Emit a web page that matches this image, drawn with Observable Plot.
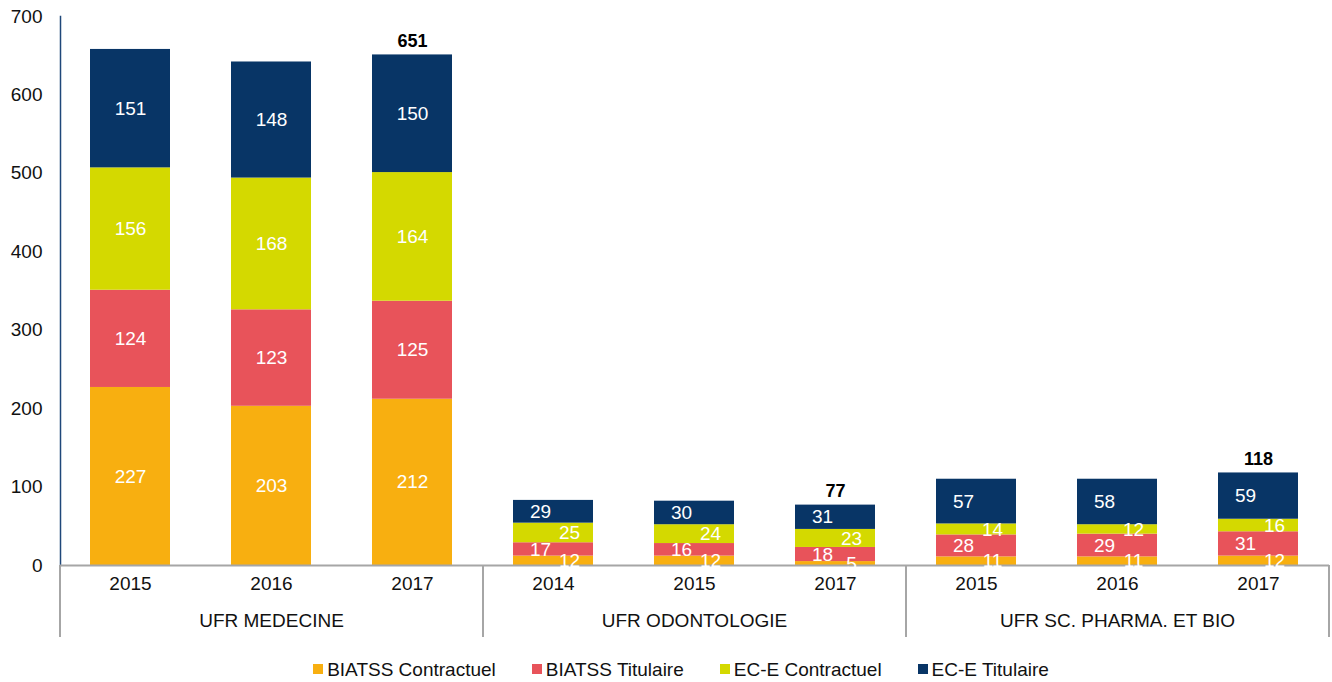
<!DOCTYPE html>
<html>
<head>
<meta charset="utf-8">
<script src="https://cdn.jsdelivr.net/npm/d3@7"></script>
<script src="https://cdn.jsdelivr.net/npm/@observablehq/plot@0.6"></script>
<style>
  html, body { margin: 0; padding: 0; background: #fff; }
  body { font-family: "Liberation Sans", Arial, sans-serif; width: 1332px; }
  #legend { display: flex; justify-content: center; align-items: center; gap: 36px;
            font-size: 19px; color: #111; padding-top: 14px; padding-left: 30px; line-height: 22px; }
  #legend .item { display: flex; align-items: center; }
  #legend .sw { width: 10px; height: 10px; margin-right: 4px; margin-top: -2px; }
</style>
</head>
<body>
<div id="chart"></div>
<div id="legend"></div>
<script>
// ---------- data ----------
const groups = ["UFR MEDECINE", "UFR ODONTOLOGIE", "UFR SC. PHARMA. ET BIO"];
const groupYears = [["2015", "2016", "2017"], ["2014", "2015", "2017"], ["2015", "2016", "2017"]];
const seriesNames = ["BIATSS Contractuel", "BIATSS Titulaire", "EC-E Contractuel", "EC-E Titulaire"];
const biatssContractuel = [227, 203, 212, 12, 12, 5, 11, 11, 12];
const biatssTitulaire   = [124, 123, 125, 17, 16, 18, 28, 29, 31];
const eceContractuel    = [156, 168, 164, 25, 24, 23, 14, 12, 16];
const eceTitulaire      = [151, 148, 150, 29, 30, 31, 57, 58, 59];
const seriesColors = ["#F8AF10", "#E8535A", "#D4D900", "#083566"];
const yTicks = [0, 100, 200, 300, 400, 500, 600, 700];
const totalLabelYear = "2017";

// ---------- build tables ----------
const seriesValues = [biatssContractuel, biatssTitulaire, eceContractuel, eceTitulaire];
const keys = [];
const keyRows = [];
groups.forEach((g, gi) => groupYears[gi].forEach(y => {
  const key = g + "|" + y;
  keys.push(key);
  keyRows.push({key, group: g, year: y});
}));
const rows = [];
keyRows.forEach((k, i) => {
  let base = 0;
  const total = seriesValues.reduce((s, arr) => s + arr[i], 0);
  seriesValues.forEach((arr, si) => {
    const v = arr[i];
    rows.push({key: k.key, series: seriesNames[si], si, value: v, mid: base + v / 2, total});
    base += v;
  });
  k.total = total;
});
const groupRows = groups.map((g, gi) => {
  const ks = keyRows.filter(k => k.group === g);
  return {group: g, first: ks[0].key, mid: ks[Math.floor(ks.length / 2)].key, last: ks[ks.length - 1].key};
});

// ---------- layout ----------
const W = 1332, H = 645, ML = 60, MR = 3, MT = 16, MB = 80;
const step = (W - ML - MR) / keys.length;
const font = '"Liberation Sans", Arial, sans-serif';
const isBig = d => d.total >= 200;
const isContract = d => d.si % 2 === 0;

const chart = Plot.plot({
  width: W, height: H,
  marginLeft: ML, marginRight: MR, marginTop: MT, marginBottom: MB,
  style: {fontFamily: font, fontSize: "19px", color: "#111", background: "#fff", overflow: "visible"},
  x: {domain: keys, paddingInner: 0.43, paddingOuter: 0.215, axis: null},
  y: {domain: [0, 700], axis: null},
  color: {domain: seriesNames, range: seriesColors},
  marks: [
    Plot.axisY(yTicks, {tickSize: 0, tickPadding: 18, fontSize: 19, fill: "#111"}),
    Plot.barY(rows, {x: "key", y: "value", fill: "series"}),
    Plot.frame({anchor: "left", stroke: "#1F477A", strokeWidth: 1.5}),
    Plot.ruleY([0], {stroke: "#A6A6A6", strokeWidth: 2}),
    Plot.ruleX(groupRows, {x: "first", dx: -step / 2, stroke: "#A6A6A6", strokeWidth: 2,
                           insetTop: H - MT - MB, insetBottom: -72}),
    Plot.ruleX(groupRows.slice(-1), {x: "last", dx: step / 2, stroke: "#A6A6A6", strokeWidth: 2,
                           insetTop: H - MT - MB, insetBottom: -72}),
    Plot.text(keyRows, {x: "key", text: "year", frameAnchor: "bottom", dy: 24, fontSize: 19, fill: "#111"}),
    Plot.text(groupRows, {x: "mid", text: "group", frameAnchor: "bottom", dy: 61, fontSize: 19, fill: "#111"}),
    Plot.text(rows.filter(isBig), {x: "key", y: "mid", text: "value", fill: "white", fontSize: 19}),
    Plot.text(rows.filter(d => !isBig(d) && isContract(d)), {x: "key", y: "mid", text: "value", fill: "white", fontSize: 19, dx: 16}),
    Plot.text(rows.filter(d => !isBig(d) && !isContract(d)), {x: "key", y: "mid", text: "value", fill: "white", fontSize: 19, dx: -13}),
    Plot.text(keyRows.filter(k => k.year === totalLabelYear), {x: "key", y: "total", text: "total", dy: -14,
              fontSize: 18, fontWeight: "bold", fill: "#000"})
  ]
});
document.getElementById("chart").appendChild(chart);

// ---------- legend ----------
const legend = document.getElementById("legend");
seriesNames.forEach((name, i) => {
  const item = document.createElement("div");
  item.className = "item";
  const sw = document.createElement("span");
  sw.className = "sw";
  sw.style.background = seriesColors[i];
  const label = document.createElement("span");
  label.textContent = name;
  item.appendChild(sw);
  item.appendChild(label);
  legend.appendChild(item);
});
</script>
</body>
</html>
